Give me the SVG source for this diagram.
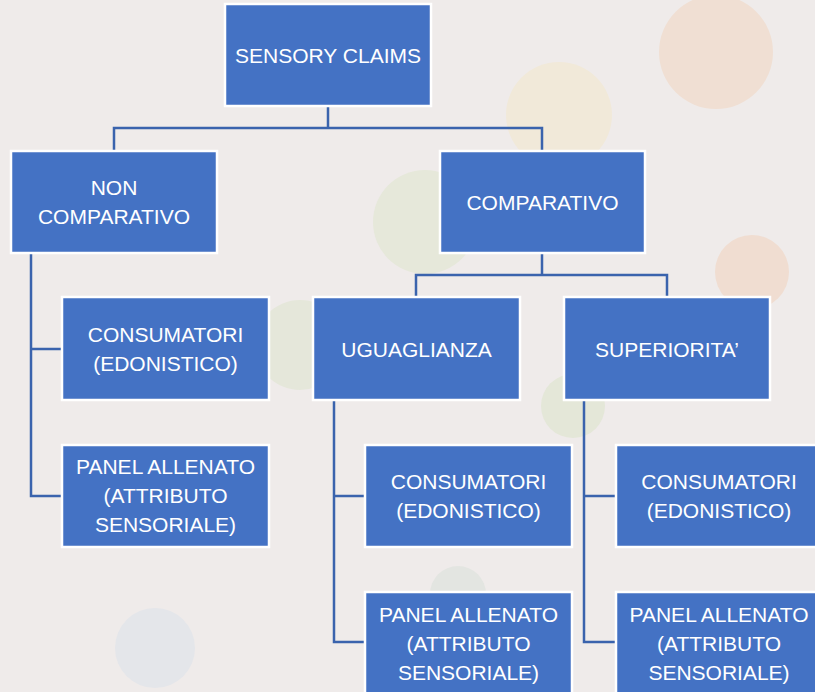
<svg xmlns="http://www.w3.org/2000/svg" width="815" height="692" viewBox="0 0 815 692">
<style>
.box{fill:#4472C4;stroke:#FFFFFF;stroke-width:2.5}
.t{font-family:"Liberation Sans",Arial,sans-serif;font-size:21px;fill:#FFFFFF;text-anchor:middle}
.c{fill:none;stroke:#3A63AD;stroke-width:2.5;stroke-linejoin:miter}
</style>
<rect width="815" height="692" fill="#EFEBEA"/>
<g id="background">
<circle cx="716" cy="52" r="57" fill="#F0DFD3"/>
<circle cx="559" cy="115" r="53" fill="#F1E9D9"/>
<circle cx="425" cy="222" r="52" fill="#E6E8DA"/>
<circle cx="752" cy="272" r="37" fill="#F0DDD1"/>
<circle cx="300" cy="345" r="45" fill="#E5E7DA"/>
<circle cx="573" cy="406" r="32" fill="#E4E7D8"/>
<circle cx="458" cy="594" r="28" fill="#E3E5E1"/>
<circle cx="155" cy="648" r="40" fill="#E4E6EA"/>
</g>
<g id="connectors">
<path class="c" d="M328 106V128M114 151V128H542V151"/>
<path class="c" d="M542 253V275M416 297V275H667V297"/>
<path class="c" d="M31 253V496H62M31 349H62"/>
<path class="c" d="M334 400V642H365M334 496H365"/>
<path class="c" d="M584 400V642H616M584 496H616"/>
</g>
<g id="n1"><rect class="box" x="225" y="4" width="206" height="102"/><text class="t" x="328" y="62.5">SENSORY CLAIMS</text></g>
<g id="n2"><rect class="box" x="11" y="151" width="206" height="102"/><text class="t" x="114" y="195">NON</text><text class="t" x="114" y="224">COMPARATIVO</text></g>
<g id="n3"><rect class="box" x="440" y="151" width="205" height="102"/><text class="t" x="542.5" y="209.5">COMPARATIVO</text></g>
<g id="n4"><rect class="box" x="62" y="297" width="207" height="103"/><text class="t" x="165.5" y="342">CONSUMATORI</text><text class="t" x="165.5" y="371">(EDONISTICO)</text></g>
<g id="n5"><rect class="box" x="62" y="445" width="207" height="102"/><text class="t" x="165.5" y="474">PANEL ALLENATO</text><text class="t" x="165.5" y="503">(ATTRIBUTO</text><text class="t" x="165.5" y="532">SENSORIALE)</text></g>
<g id="n6"><rect class="box" x="313" y="297" width="207" height="103"/><text class="t" x="416.5" y="356.5">UGUAGLIANZA</text></g>
<g id="n7"><rect class="box" x="564" y="297" width="206" height="103"/><text class="t" x="667" y="356.5">SUPERIORITA’</text></g>
<g id="n8"><rect class="box" x="365" y="445" width="207" height="102"/><text class="t" x="468.5" y="489">CONSUMATORI</text><text class="t" x="468.5" y="518">(EDONISTICO)</text></g>
<g id="n9"><rect class="box" x="365" y="592" width="207" height="104"/><text class="t" x="468.5" y="622">PANEL ALLENATO</text><text class="t" x="468.5" y="651">(ATTRIBUTO</text><text class="t" x="468.5" y="680">SENSORIALE)</text></g>
<g id="n10"><rect class="box" x="616" y="445" width="206" height="102"/><text class="t" x="719" y="489">CONSUMATORI</text><text class="t" x="719" y="518">(EDONISTICO)</text></g>
<g id="n11"><rect class="box" x="616" y="592" width="206" height="104"/><text class="t" x="719" y="622">PANEL ALLENATO</text><text class="t" x="719" y="651">(ATTRIBUTO</text><text class="t" x="719" y="680">SENSORIALE)</text></g>
</svg>
